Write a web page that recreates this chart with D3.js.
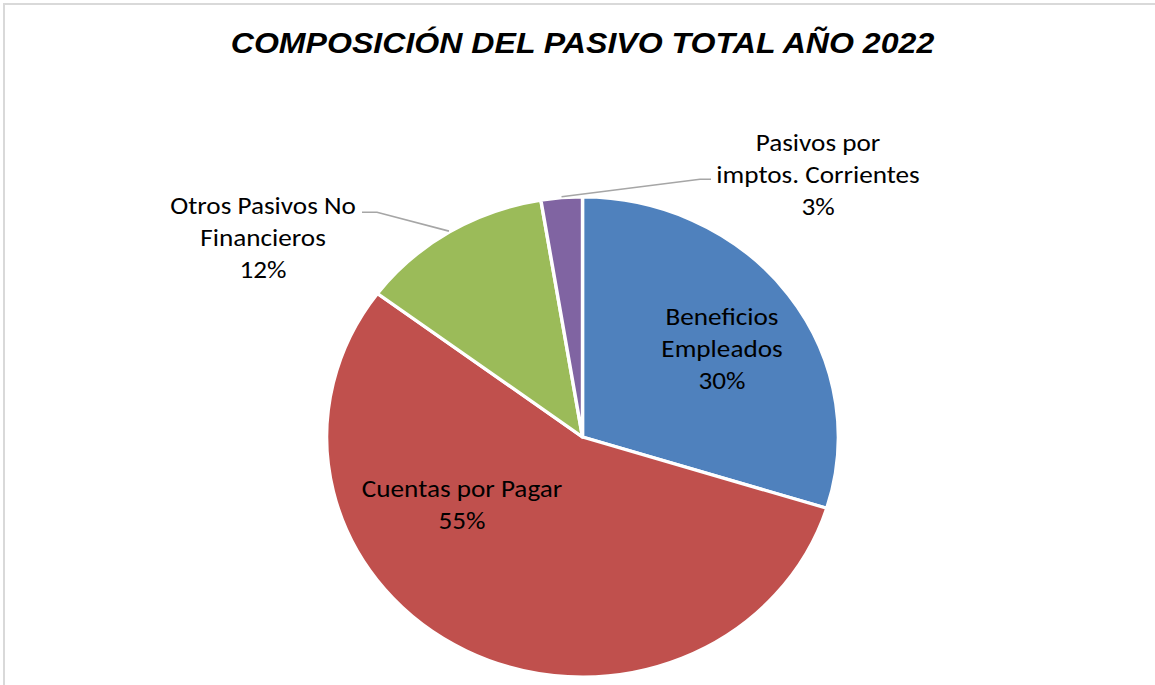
<!DOCTYPE html>
<html lang="es">
<head>
<meta charset="utf-8">
<title>Composición del pasivo total año 2022</title>
<script src="https://cdn.jsdelivr.net/npm/d3@7"></script>
<style>
  html, body { margin: 0; padding: 0; background: #fff; }
  #chart { width: 1155px; height: 685px; overflow: hidden; }
  .title { font-family: "Liberation Sans", Arial, sans-serif; font-weight: bold; font-style: italic; }
  .label { font-family: Carlito, Lato, "Open Sans", sans-serif; fill: #000; }
</style>
</head>
<body>
<div id="chart"></div>
<script>
/* global d3 */

// Chart data
const categories = [
  'Beneficios Empleados',
  'Cuentas por Pagar',
  'Otros Pasivos No Financieros',
  'Pasivos por imptos. Corrientes'
];
const shares = [29.8, 55.4, 12.2, 2.6];
const labelLines = [
  ['Beneficios', 'Empleados'],
  ['Cuentas por Pagar'],
  ['Otros Pasivos No', 'Financieros'],
  ['Pasivos por', 'imptos. Corrientes']
];
const chartTitle = 'COMPOSICIÓN DEL PASIVO TOTAL AÑO 2022';

// Office palette
const colors = ['#4F81BD', '#C0504D', '#9BBB59', '#8064A2'];

// Layout
const width = 1155;
const height = 685;
const cx = 582.5;
const cy = 437;
const radius = 240;
const stretchX = 1.066; // the picture is slightly wider than tall
const lineHeight = 31.7;

// Label placement: centre of the text block, plus leader line for outside labels
const labelLayout = [
  { x: 722, y: 348, leader: null },
  { x: 462, y: 504, leader: null },
  { x: 263, y: 237, leader: { x0: 362, x1: 377, y: 212.3 } },
  { x: 818, y: 174, leader: { x0: 711, x1: 700, y: 179.3 } }
];

const svg = d3.select('#chart')
  .append('svg')
  .attr('width', width)
  .attr('height', height);

// Chart area border
svg.append('rect')
  .attr('x', 4)
  .attr('y', 4)
  .attr('width', width + 10)
  .attr('height', height + 10)
  .attr('fill', '#fff')
  .attr('stroke', '#d9d9d9')
  .attr('stroke-width', 2);

// Title
svg.append('text')
  .attr('class', 'title')
  .attr('transform', `translate(${cx},53) scale(1.07,1)`)
  .attr('text-anchor', 'middle')
  .style('font-size', '30px')
  .text(chartTitle);

const total = d3.sum(shares);
const pieData = d3.pie()
  .sort(null)
  .value((d) => d)(shares);

const arc = d3.arc()
  .innerRadius(0)
  .outerRadius(radius);

// Slices
svg.append('g')
  .attr('transform', `translate(${cx},${cy}) scale(${stretchX},1)`)
  .selectAll('path')
  .data(pieData)
  .enter()
  .append('path')
  .attr('d', arc)
  .attr('fill', (d, i) => colors[i])
  .attr('stroke', '#fff')
  .attr('stroke-width', 3.2)
  .attr('stroke-linejoin', 'round');

/**
 * Point on the pie rim for a given angle (screen coordinates)
 */
function rimPoint(angle) {
  return [cx + stretchX * (radius + 1) * Math.sin(angle), cy - (radius + 1) * Math.cos(angle)];
}

const fmt = d3.format('.0%');

// Leader lines
pieData.forEach((d, i) => {
  const lay = labelLayout[i];
  if (!lay.leader) {
    return;
  }
  const mid = (d.startAngle + d.endAngle) / 2;
  const end = rimPoint(mid);
  const pts = [[lay.leader.x0, lay.leader.y], [lay.leader.x1, lay.leader.y], end];
  svg.append('path')
    .attr('d', d3.line()(pts))
    .attr('fill', 'none')
    .attr('stroke', '#a6a6a6')
    .attr('stroke-width', 1.6);
});

// Data labels
pieData.forEach((d, i) => {
  const lay = labelLayout[i];
  const lines = labelLines[i].concat([fmt(d.data / total)]);
  const top = lay.y - (lines.length - 1) * lineHeight / 2;
  const text = svg.append('text')
    .attr('class', 'label')
    .attr('text-anchor', 'middle')
    .attr('transform', `translate(${lay.x},0) scale(${stretchX},1)`)
    .style('font-size', '25.5px');
  lines.forEach((line, j) => {
    text.append('tspan')
      .attr('x', 0)
      .attr('y', top + j * lineHeight + 9)
      .text(line);
  });
  text.append('title').text(categories[i]);
});
</script>
</body>
</html>
